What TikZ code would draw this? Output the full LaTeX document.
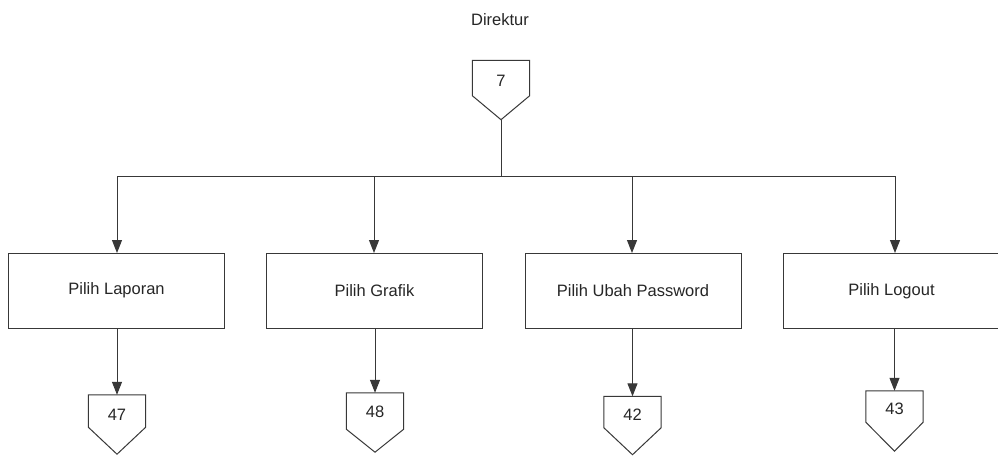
\documentclass[tikz,border=0pt]{standalone}
\usepackage{fontspec}
\setmainfont{Liberation Sans}
\usetikzlibrary{arrows.meta,calc}
\begin{document}
\begin{tikzpicture}[x=1pt,y=-1pt,
  every node/.style={font=\fontsize{16.5}{19}\selectfont, text=black!85},
  line/.style={draw=black!78, line width=1pt},
  arr/.style={line, -{Triangle[length=13pt,width=10pt]}},
  procbox/.style={line, fill=white, minimum width=216pt, minimum height=75pt, inner sep=0pt},
  conn/.style={minimum width=57pt, inner sep=0pt, text depth=0pt}]
\useasboundingbox (0,0) rectangle (998,455);
\fill[white] (0,0) rectangle (998,455);

\node (dir) at (500,20) {Direktur};

% top off-page connector
\node[conn, minimum height=35pt] (c7) at (501,78) {};
\node at ($(c7.center)+(0,3)$) {7};
\draw[line] (c7.north west) -- (c7.north east) -- (c7.south east) -- ($(c7.south)+(0,24)$) -- (c7.south west) -- cycle;

% process boxes
\node[procbox] (b1) at (116.5,290.5) {Pilih Laporan};
\node[procbox] (b2) at (374.5,290.5) {Pilih Grafik};
\node[procbox] (b3) at (633,290.5) {Pilih Ubah Password};
\node[procbox] (b4) at (891.5,291) {Pilih Logout};

% bus
\coordinate (j) at (501,176);
\draw[line] ($(c7.south)+(0,24)$) -- (j);
\coordinate (bl) at (117,176);
\coordinate (br) at (895,176);
\draw[line] (bl) -- (br);
\draw[arr] (117,176) -- (117,253);
\draw[arr] (374,176) -- (374,253);
\draw[arr] (632,176) -- (632,253);
\draw[arr] (895,176) -- (895,253);

% bottom connectors
\node[conn, minimum height=32pt] (c47) at (117,411) {};
\node at ($(c47.center)+(0,4)$) {47};
\draw[line] (c47.north west) -- (c47.north east) -- (c47.south east) -- ($(c47.south)+(0,27)$) -- (c47.south west) -- cycle;

\node[conn, minimum height=36pt] (c48) at (375,411) {};
\node at ($(c48.center)+(0,1)$) {48};
\draw[line] (c48.north west) -- (c48.north east) -- (c48.south east) -- ($(c48.south)+(0,23)$) -- (c48.south west) -- cycle;

\node[conn, minimum height=31pt] (c42) at (632.5,412) {};
\node at ($(c42.center)+(0,3)$) {42};
\draw[line] (c42.north west) -- (c42.north east) -- (c42.south east) -- ($(c42.south)+(0,27)$) -- (c42.south west) -- cycle;

\node[conn, minimum height=31pt] (c43) at (894.5,406.5) {};
\node at ($(c43.center)+(0,2)$) {43};
\draw[line] (c43.north west) -- (c43.north east) -- (c43.south east) -- ($(c43.south)+(0,29)$) -- (c43.south west) -- cycle;

\draw[arr] (b1.south -| c47.north) -- (c47.north);
\draw[arr] (b2.south -| c48.north) -- (c48.north);
\draw[arr] (b3.south -| c42.north) -- (c42.north);
\draw[arr] (b4.south -| c43.north) -- (c43.north);
\end{tikzpicture}
\end{document}
